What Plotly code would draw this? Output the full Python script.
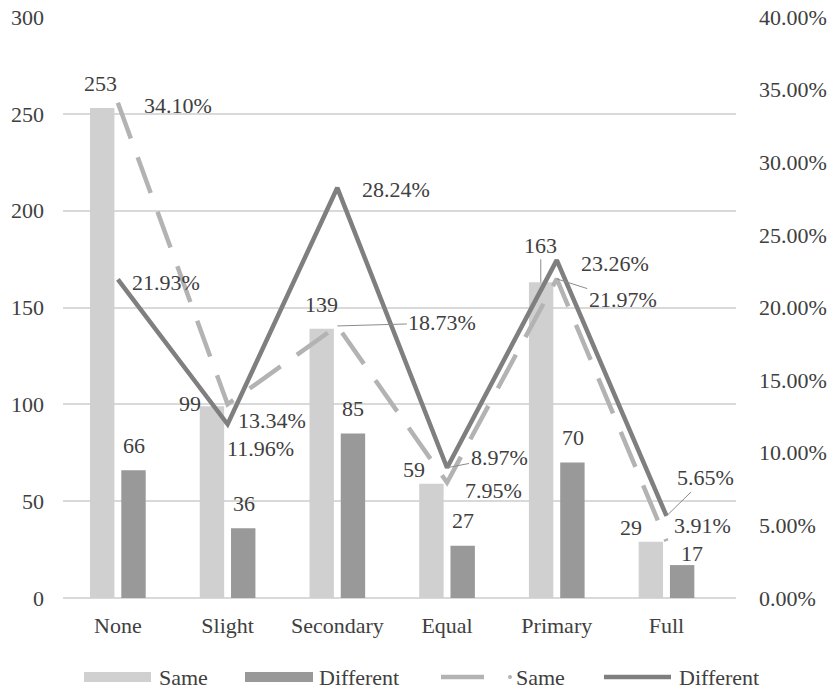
import plotly.graph_objects as go

# Categories and counts
categories = ["None", "Slight", "Secondary", "Equal", "Primary", "Full"]
same_counts = [253, 99, 139, 59, 163, 29]
diff_counts = [66, 36, 85, 27, 70, 17]

# Share of each group (percent)
same_pct = [34.10, 13.34, 18.73, 7.95, 21.97, 3.91]
diff_pct = [21.93, 11.96, 28.24, 8.97, 23.26, 5.65]

FONT = "Liberation Serif, Tinos, Times New Roman, DejaVu Serif, serif"
TXT = "#404040"
C_SAME_BAR = "#d0d0d0"
C_DIFF_BAR = "#999999"
C_SAME_LINE = "#b3b3b3"
C_DIFF_LINE = "#7f7f7f"
LEADER = "#8c8c8c"
GRID = "#d9d9d9"
FS = 22

W, H = 834, 689
ML, MR, MT, MB = 63, 98, 17, 91
PW, PH = W - ML - MR, H - MT - MB


def px(x):
    return (x - ML) / PW


def py(y):
    return (H - MB - y) / PH


fig = go.Figure()
fig.add_trace(go.Bar(name="Same", x=categories, y=same_counts,
                     marker=dict(color=C_SAME_BAR, line=dict(width=0))))
fig.add_trace(go.Bar(name="Different", x=categories, y=diff_counts,
                     marker=dict(color=C_DIFF_BAR, line=dict(width=0))))
fig.add_trace(go.Scatter(name="Same", x=categories, y=[p / 100 for p in same_pct],
                         yaxis="y2", mode="lines",
                         line=dict(color=C_SAME_LINE, width=4.5, dash="38px,20px")))
fig.add_trace(go.Scatter(name="Different", x=categories, y=[p / 100 for p in diff_pct],
                         yaxis="y2", mode="lines",
                         line=dict(color=C_DIFF_LINE, width=4.5)))

ann = []
BAR_OFF = 16  # pixel offset of each bar from its category centre

# label placement (dx, dy in px; dy positive = upward); None means use a leader line
same_bar_pos = [(-1, 25), (-22, 3), (0, 24), (-17, 14), None, (-20, 14)]
diff_bar_pos = [(0, 25), (0, 25), (0, 25), (0, 25), (0, 25), (9, 12)]
same_bar_leader = {4: (0, -37)}

for i, c in enumerate(categories):
    pos = same_bar_pos[i]
    if pos is None:
        ax, ay = same_bar_leader[i]
        ann.append(dict(x=c, y=same_counts[i], xref="x", yref="y", text=str(same_counts[i]),
                        showarrow=True, ax=ax, ay=ay, arrowhead=0, arrowwidth=1,
                        arrowcolor=LEADER, standoff=0, xshift=-BAR_OFF,
                        font=dict(family=FONT, size=FS, color=TXT)))
    else:
        ann.append(dict(x=c, y=same_counts[i], xref="x", yref="y", text=str(same_counts[i]),
                        showarrow=False, xshift=-BAR_OFF + pos[0], yshift=pos[1],
                        font=dict(family=FONT, size=FS, color=TXT)))
    pos = diff_bar_pos[i]
    ann.append(dict(x=c, y=diff_counts[i], xref="x", yref="y", text=str(diff_counts[i]),
                    showarrow=False, xshift=BAR_OFF + pos[0], yshift=pos[1],
                    font=dict(family=FONT, size=FS, color=TXT)))

# percentage labels on the lines: ("s", dx, dy) plain shift, ("l", ax, ay) leader line
same_pct_pos = [("s", 60, -3), ("s", 44, -16), ("l", 105, -3), ("s", 46, -8), ("l", 66, 21), ("s", 36, 16)]
diff_pct_pos = [("s", 48, -3), ("s", 33, -24), ("s", 59, -2), ("l", 52, -10), ("s", 58, -3), ("l", 39, -38)]

for vals, spec in ((same_pct, same_pct_pos), (diff_pct, diff_pct_pos)):
    for i, c in enumerate(categories):
        kind, a, b = spec[i]
        base = dict(x=c, y=vals[i] / 100, xref="x", yref="y2", text=f"{vals[i]:.2f}%",
                    font=dict(family=FONT, size=FS, color=TXT))
        if kind == "s":
            base.update(showarrow=False, xshift=a, yshift=b)
        else:
            base.update(showarrow=True, ax=a, ay=b, arrowhead=0, arrowwidth=1,
                        arrowcolor=LEADER, standoff=0)
        ann.append(base)

# legend drawn below the plot: swatches and their names
LEG_Y = 677
shapes = [
    dict(type="rect", xref="paper", yref="paper", x0=px(84), x1=px(151),
         y0=py(682), y1=py(672), fillcolor=C_SAME_BAR, line=dict(width=0)),
    dict(type="rect", xref="paper", yref="paper", x0=px(245), x1=px(313),
         y0=py(682), y1=py(672), fillcolor=C_DIFF_BAR, line=dict(width=0)),
    dict(type="line", xref="paper", yref="paper", x0=px(441), x1=px(484),
         y0=py(LEG_Y), y1=py(LEG_Y), line=dict(color=C_SAME_LINE, width=4.5)),
    dict(type="circle", xref="paper", yref="paper", x0=px(508), x1=px(512),
         y0=py(LEG_Y + 2), y1=py(LEG_Y - 2), fillcolor=C_SAME_LINE, line=dict(width=0)),
    dict(type="line", xref="paper", yref="paper", x0=px(604), x1=px(671),
         y0=py(LEG_Y), y1=py(LEG_Y), line=dict(color=C_DIFF_LINE, width=4.5)),
]
for name, x_left in (("Same", 157), ("Different", 317), ("Same", 514), ("Different", 677)):
    ann.append(dict(x=px(x_left), y=py(LEG_Y), xref="paper", yref="paper", text=name,
                    showarrow=False, xanchor="left", yanchor="middle",
                    font=dict(family=FONT, size=FS, color=TXT)))

fig.update_layout(
    width=W, height=H,
    margin=dict(l=ML, r=MR, t=MT, b=MB, autoexpand=False),
    paper_bgcolor="white", plot_bgcolor="white",
    font=dict(family=FONT, size=FS, color=TXT),
    barmode="group", bargap=0.43, bargroupgap=0.22,
    showlegend=False,
    xaxis=dict(showgrid=False, showline=False, ticks="",
               tickfont=dict(family=FONT, size=FS, color=TXT), ticklabelstandoff=12),
    yaxis=dict(range=[0, 300], dtick=50, showgrid=True, gridcolor=GRID, gridwidth=1.5,
               zeroline=True, zerolinecolor=GRID, zerolinewidth=1.5, showline=False,
               ticks="", tickfont=dict(family=FONT, size=FS, color=TXT), ticklabelstandoff=18),
    yaxis2=dict(range=[0, 0.40], dtick=0.05, tickformat=".2%", overlaying="y", side="right",
                showgrid=False, zeroline=False, showline=False, ticks="",
                tickfont=dict(family=FONT, size=FS, color=TXT), ticklabelstandoff=22),
    annotations=ann,
    shapes=shapes,
)

fig.write_html("out.html")
